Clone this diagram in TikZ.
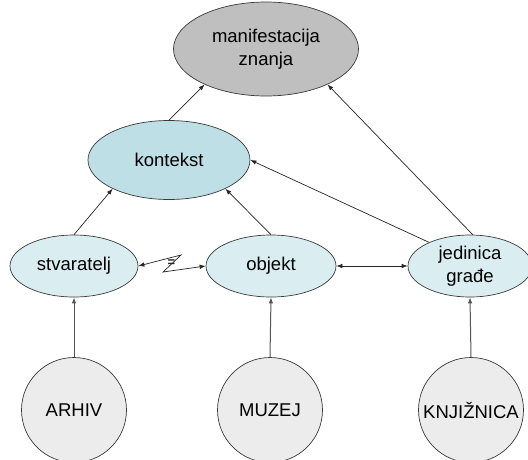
\documentclass[tikz,border=0pt]{standalone}
\usepackage{fontspec}
\setmainfont{Liberation Sans}
\usetikzlibrary{arrows.meta,shapes.geometric}
\definecolor{ctxfill}{HTML}{BDDFE5}
\definecolor{lightfill}{HTML}{DAEEF2}
\definecolor{manfill}{HTML}{BFBFBF}
\definecolor{circfill}{HTML}{ECECEC}
\definecolor{edge}{HTML}{3A3A3A}
\definecolor{arr}{HTML}{262626}
\definecolor{varr}{HTML}{555555}
\tikzset{
  oval/.style={ellipse, draw=edge, line width=0.7pt, inner sep=0pt, align=center,
    font=\fontsize{18.5}{23}\selectfont},
  inst/.style={circle, draw=edge, line width=0.7pt, fill=circfill, inner sep=0pt,
    minimum size=105pt, font=\fontsize{18.5}{23}\selectfont},
  conn/.style={draw=arr, line width=0.7pt, -{Latex[length=6pt,width=4.5pt]}},
  bconn/.style={draw=arr, line width=0.7pt, {Latex[length=6pt,width=4.5pt]}-{Latex[length=6pt,width=4.5pt]}},
  vconn/.style={draw=varr, line width=1pt, -{Latex[length=6pt,width=4.5pt]}},
}
\begin{document}
\begin{tikzpicture}[x=1pt,y=-1pt]
\useasboundingbox (0,0) rectangle (528,459);
\clip (0,0) rectangle (528,459);
\fill[white] (0,0) rectangle (528,459);

\node[oval, fill=manfill, minimum width=185pt, minimum height=94pt] (manif) at (266,49) {manifestacija\\znanja};
\node[oval, fill=ctxfill, minimum width=162pt, minimum height=79pt] (kontekst) at (169,160) {kontekst};
\node[oval, fill=lightfill, minimum width=128pt, minimum height=62pt] (stvaratelj) at (74,266) {stvaratelj};
\node[oval, fill=lightfill, minimum width=130pt, minimum height=62pt] (objekt) at (271,266) {objekt};
\node[oval, fill=lightfill, minimum width=124pt, minimum height=62pt] (jedinica) at (470,266) {jedinica\\građe};

\node[inst] (arhiv) at (74,410) {ARHIV};
\node[inst] (muzej) at (270,410) {MUZEJ};
\node[inst] (knjiznica) at (471,410) {KNJIŽNICA};

\draw[conn] (kontekst.north) -- (manif.210);
\draw[conn] (jedinica.85) -- (manif.330);
\draw[conn] (jedinica.150) -- (kontekst.east);
\draw[conn] (objekt.north) -- (kontekst.333);
\draw[conn] (stvaratelj.north) -- (kontekst.207);

\coordinate (z1) at (181,255);
\coordinate (z2) at (163,272);
\draw[bconn] (stvaratelj.east) -- (z1) -- (z2) -- (objekt.west);
\node[font=\fontsize{13}{13}\bfseries\selectfont, inner sep=0pt, text=arr] (eq) at (171.5,263) {=};

\draw[bconn] (objekt.east) -- (jedinica.west);

\draw[vconn] (arhiv.north) -- (stvaratelj.south);
\draw[vconn] (muzej.north) -- (objekt.south);
\draw[vconn] (knjiznica.north) -- (jedinica.south);
\end{tikzpicture}
\end{document}
